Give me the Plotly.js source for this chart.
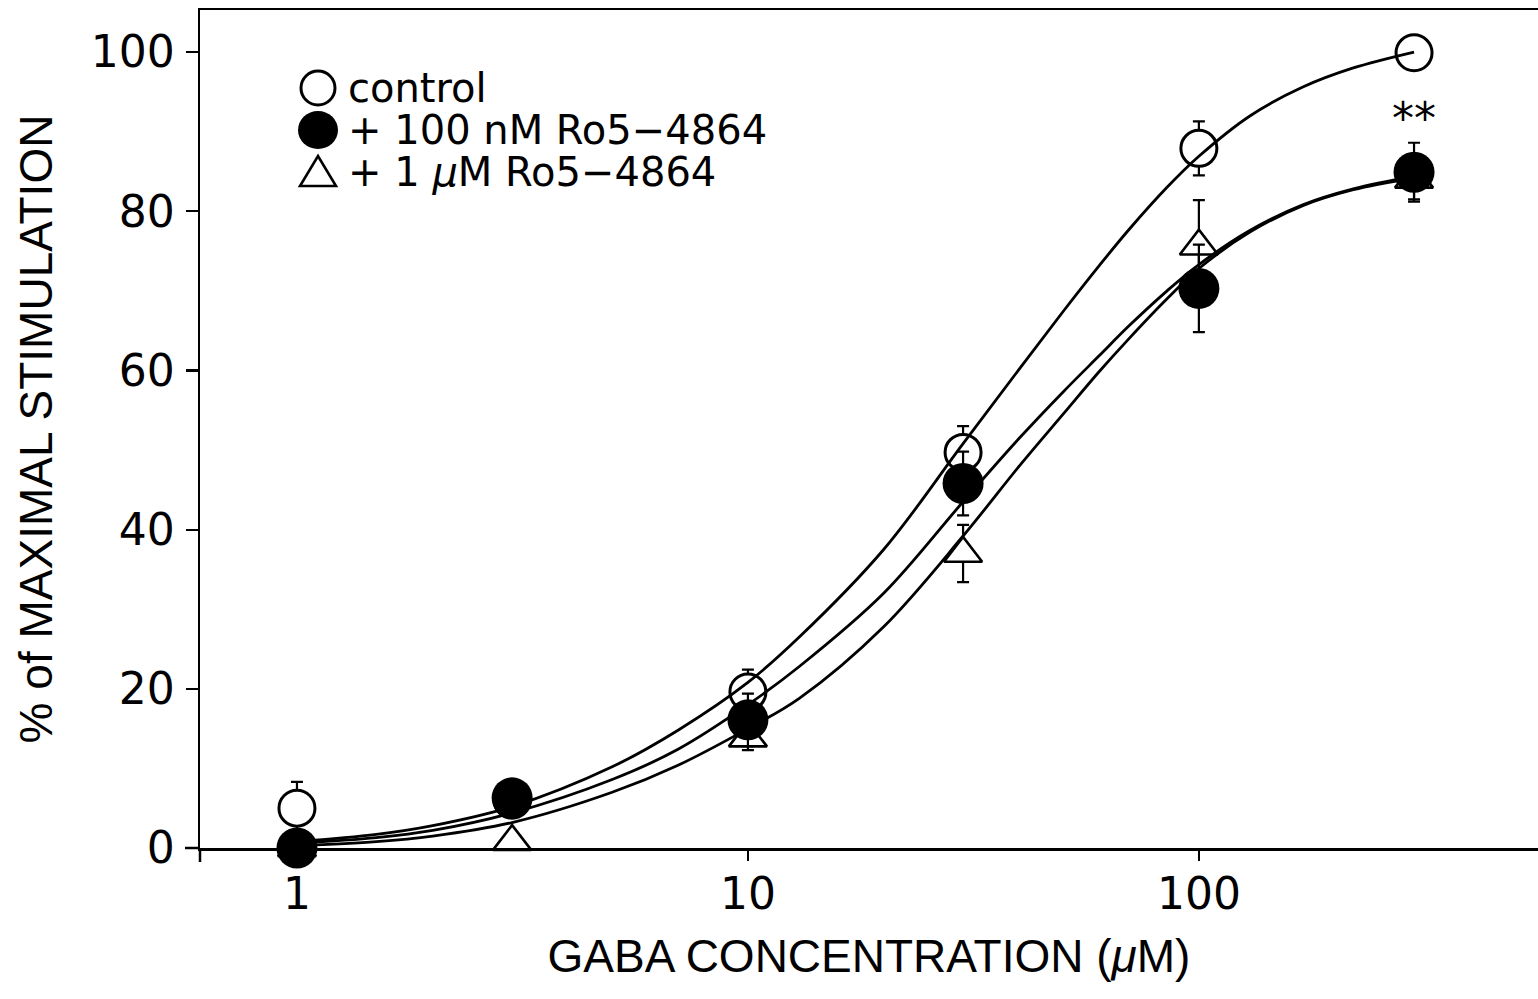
<!DOCTYPE html>
<html>
<head>
<meta charset="utf-8">
<script src="https://cdn.plot.ly/plotly-3.0.1.min.js"></script>
<style>
html,body{margin:0;padding:0;background:#fff;overflow:hidden;}
#chart{width:1538px;height:999px;}
</style>
</head>
<body>
<div id="chart"></div>
<script>
// GABA concentrations (µM) of the measured points
const doses = [1, 3, 10, 30, 100, 300];

// % of maximal stimulation, mean and error
const controlMean = [5.0, 6.0, 19.6, 49.7, 87.9, 99.9];
const controlErr  = [3.3, 1.0, 2.8, 3.3, 3.4, 0];
const ro100nMMean = [0.0, 6.3, 16.1, 45.8, 70.3, 84.9];
const ro100nMErr  = [0.5, 1.0, 3.3, 4.0, 5.5, 3.7];
const ro1uMMean   = [0.0, 0.8, 13.8, 37.0, 75.6, 84.0];
const ro1uMErr    = [0.5, 0.8, 1.5, 3.6, 5.8, 2.5];

// fitted curves
const fitX        = [1, 1.5, 2, 3, 5, 7, 10, 13, 20, 30, 40, 50, 60, 70, 85, 100, 130, 170, 220, 300];
const controlFit  = [0.8, 1.7, 2.8, 5.2, 10.2, 14.8, 20.8, 26.5, 37.5, 50.8, 60.2, 67.4, 73.1, 77.7, 83.0, 86.9, 92.0, 95.6, 98.0, 100.0];
const ro100nMFit  = [0.6, 1.3, 2.2, 4.4, 8.6, 12.4, 18.0, 22.8, 32.0, 43.5, 51.5, 57.3, 61.8, 65.6, 70.0, 73.3, 77.6, 80.8, 82.8, 84.4];
const ro1uMFit    = [0.3, 0.8, 1.5, 3.2, 7.0, 10.4, 15.0, 18.8, 27.8, 39.2, 48.0, 54.5, 59.8, 64.0, 69.0, 72.8, 77.4, 80.7, 82.7, 84.2];

// legend labels and ticks
const seriesNames = ['control', '+ 100 nM Ro5\u22124864', '+ 1 <i>\u03bc</i>M Ro5\u22124864'];
const xTickVals = [1, 10, 100];
const xTickText = ['1', '10', '100'];
const yTickVals = [0, 20, 40, 60, 80, 100];
const yTickText = ['0', '20', '40', '60', '80', '100'];
const significance = {x: 300, y: 91.7, text: '**'};

const FONT = 'Liberation Sans, Arial, Helvetica, sans-serif';
const WIDE = 'DejaVu Sans, Verdana, sans-serif';

function errSpec(arr) {
  return {type: 'data', array: arr, visible: true, color: '#000', thickness: 2.2, width: 6};
}

const traces = [
  {x: doses, y: ro1uMMean, type: 'scatter', mode: 'markers', name: seriesNames[2],
   error_y: errSpec(ro1uMErr), cliponaxis: false,
   marker: {symbol: 'triangle-up', size: 33, color: '#fff', line: {color: '#000', width: 2.6}}},
  {x: doses, y: controlMean, type: 'scatter', mode: 'markers', name: seriesNames[0],
   error_y: errSpec(controlErr), cliponaxis: false,
   marker: {symbol: 'circle', size: 36, color: '#fff', line: {color: '#000', width: 3}}},
  {x: doses, y: ro100nMMean, type: 'scatter', mode: 'markers', name: seriesNames[1],
   error_y: errSpec(ro100nMErr), cliponaxis: false,
   marker: {symbol: 'circle', size: 41, color: '#000', line: {color: '#000', width: 0}}},
  {x: fitX, y: controlFit, type: 'scatter', mode: 'lines', cliponaxis: false,
   line: {color: '#000', width: 2.8, shape: 'spline', smoothing: 1}},
  {x: fitX, y: ro100nMFit, type: 'scatter', mode: 'lines', cliponaxis: false,
   line: {color: '#000', width: 2.8, shape: 'spline', smoothing: 1}},
  {x: fitX, y: ro1uMFit, type: 'scatter', mode: 'lines', cliponaxis: false,
   line: {color: '#000', width: 2.8, shape: 'spline', smoothing: 1}}
];

// plot-area geometry helpers (paper coords) for the hand-made legend
const L = 200, T = 10, W = 1338, H = 838;
function px(xp) { return (xp - L) / W; }
function py(yp) { return (T + H - yp) / H; }

const legendRows = [88, 130, 172];
const legendMarkerX = 318;
const legendTextX = 346;

const shapes = [
  {type: 'line', xref: 'paper', yref: 'paper', x0: 0, x1: 0, ysizemode: 'pixel', yanchor: 0, y0: 0, y1: -14,
   line: {color: '#000', width: 2.5}},
  {type: 'line', xref: 'paper', yref: 'paper', y0: 0, y1: 0, xsizemode: 'pixel', xanchor: 0, x0: -15, x1: 0,
   line: {color: '#000', width: 2.5}},
  {type: 'circle', xref: 'paper', yref: 'paper', xsizemode: 'pixel', ysizemode: 'pixel',
   xanchor: px(legendMarkerX), yanchor: py(legendRows[0]), x0: -17, x1: 17, y0: -17, y1: 17,
   line: {color: '#000', width: 3}, fillcolor: 'rgba(0,0,0,0)'},
  {type: 'circle', xref: 'paper', yref: 'paper', xsizemode: 'pixel', ysizemode: 'pixel',
   xanchor: px(legendMarkerX), yanchor: py(legendRows[1]), x0: -20, x1: 20, y0: -19, y1: 19,
   line: {color: '#000', width: 0}, fillcolor: '#000'},
  {type: 'path', xref: 'paper', yref: 'paper', xsizemode: 'pixel', ysizemode: 'pixel',
   xanchor: px(legendMarkerX), yanchor: py(legendRows[2]),
   path: 'M-18,-14 L18,-14 L0,16 Z', line: {color: '#000', width: 2.6}, fillcolor: 'rgba(0,0,0,0)'}
];

const annotations = seriesNames.map((t, i) => ({
  xref: 'paper', yref: 'paper', x: px(legendTextX), y: py(legendRows[i]),
  xanchor: 'left', yanchor: 'middle', showarrow: false, text: t,
  font: {family: WIDE, size: 40, color: '#000'}
}));
annotations.push({
  xref: 'x', yref: 'y', x: Math.log10(significance.x), y: significance.y,
  xanchor: 'center', yanchor: 'middle', showarrow: false, text: significance.text,
  font: {family: WIDE, size: 44, color: '#000'}
});

const layout = {
  width: 1538, height: 999,
  margin: {l: L, r: 0, t: T, b: 999 - T - H, pad: 0},
  paper_bgcolor: '#fff', plot_bgcolor: '#fff',
  showlegend: false,
  font: {family: FONT, color: '#000'},
  xaxis: {
    type: 'log', range: [-0.215, 2.752],
    tickvals: xTickVals, ticktext: xTickText,
    ticks: 'outside', ticklen: 10, tickwidth: 2.2, tickcolor: '#000',
    showline: true, linecolor: '#000', linewidth: 2.5, mirror: true,
    showgrid: false, zeroline: false,
    ticklabelstandoff: -4,
    tickfont: {family: WIDE, size: 44, color: '#000'},
    title: {text: 'GABA CONCENTRATION (<i>\u03bc</i>M)', font: {family: FONT, size: 46, color: '#000'}, standoff: 22}
  },
  yaxis: {
    range: [0, 105.28],
    tickvals: yTickVals, ticktext: yTickText,
    ticks: 'outside', ticklen: 12, tickwidth: 2.2, tickcolor: '#000',
    showline: true, linecolor: '#000', linewidth: 2.5, mirror: false,
    showgrid: false, zeroline: false,
    ticklabelstandoff: 2,
    tickfont: {family: WIDE, size: 44, color: '#000'},
    title: {text: '% of MAXIMAL STIMULATION', font: {family: FONT, size: 46, color: '#000'}, standoff: 24}
  },
  shapes: shapes,
  annotations: annotations
};

Plotly.newPlot('chart', traces, layout, {displayModeBar: false, staticPlot: true});
</script>
</body>
</html>
